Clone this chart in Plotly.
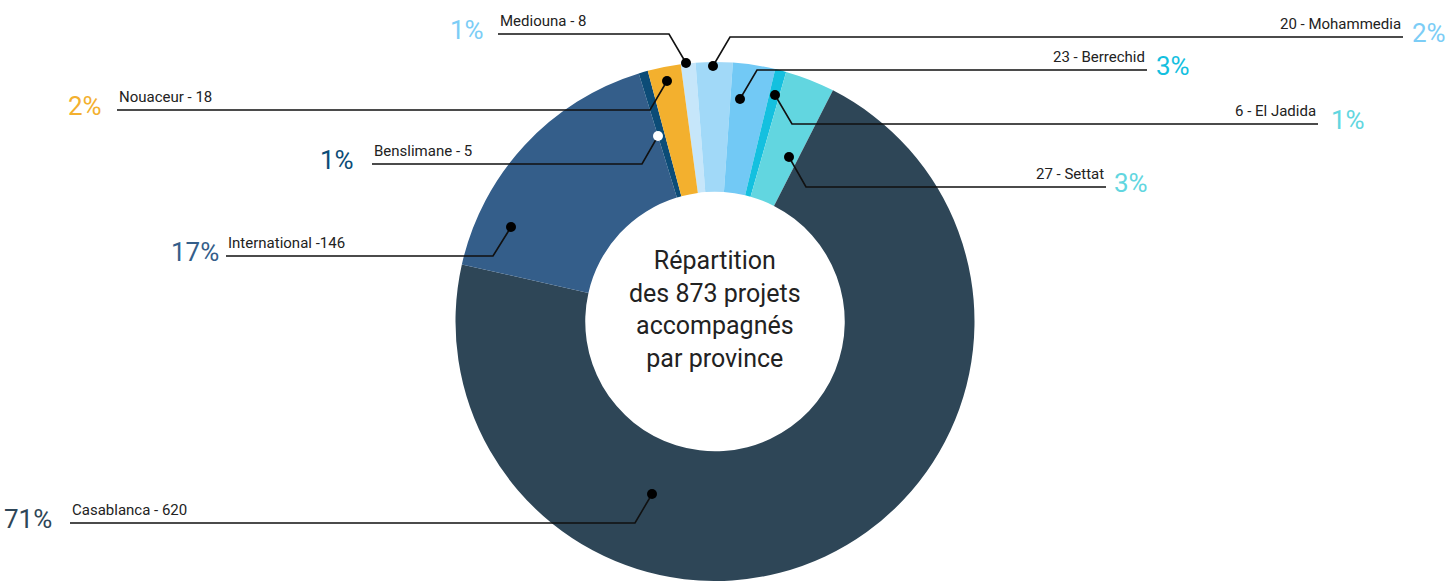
import plotly.graph_objects as go

W, H = 1449, 581

# data
provinces = ['Mediouna', 'Mohammedia', 'Berrechid', 'El Jadida', 'Settat',
             'Casablanca', 'International', 'Benslimane', 'Nouaceur']
projects = [8, 20, 23, 6, 27, 620, 146, 5, 18]
label_texts = ['Mediouna - 8', '20 - Mohammedia', '23 - Berrechid',
               '6 - El Jadida', '27 - Settat', 'Casablanca - 620',
               'International -146', 'Benslimane - 5', 'Nouaceur - 18']
pct_texts = ['1%', '2%', '3%', '1%', '3%', '71%', '17%', '1%', '2%']

# styles
slice_colors = ['#c6e6fa', '#a1d9f8', '#72c9f5', '#14c0df', '#62d6e0',
                '#2e4657', '#345e8a', '#0c4c77', '#f3b02e']
pct_colors = ['#7ccdf6', '#7ccdf6', '#14c0df', '#62d6e0', '#62d6e0',
              '#2e4657', '#345e8a', '#0c4c77', '#f3b02e']
dot_colors = ['black'] * 7 + ['white', 'black']

# leader line layout in pixels: dot, elbow, line end x, percent x
leaders = [
    (686, 63, 669, 34, 498, 486),
    (713, 66, 730, 37, 1403, 1410),
    (740, 99, 757, 70, 1147, 1154),
    (775, 95, 792, 124, 1318, 1329),
    (789, 157, 806, 187, 1106, 1112),
    (652, 494, 635, 523, 70, 54),
    (511, 227, 493, 256, 226, 221),
    (658, 136, 642, 164, 372, 356),
    (667, 81, 650, 110, 117, 104),
]

FONT = 'Roboto, sans-serif'
PCT_FONT = dict(family='Roboto, sans-serif', size=26)


def px(x, y):
    return x / W, 1 - y / H


fig = go.Figure(go.Pie(
    labels=provinces,
    values=projects,
    hole=0.5,
    sort=False,
    direction='clockwise',
    rotation=-7.6,
    marker=dict(colors=slice_colors, line=dict(width=0)),
    textinfo='none',
    hoverinfo='label+value+percent',
    domain=dict(x=[455 / W, 975 / W], y=[0, 1 - 62 / H]),
))

shapes = []
annotations = []
for i, (dx, dy, ex, ey, lx, pxx) in enumerate(leaders):
    x0, y0 = px(dx, dy)
    x1, y1 = px(ex, ey)
    x2, _ = px(lx, ey)
    shapes.append(dict(type='path', xref='paper', yref='paper',
                       path=f'M {x0} {y0} L {x1} {y1} L {x2} {y1}',
                       line=dict(color='#111', width=1.6), layer='above'))
    shapes.append(dict(type='circle', xref='paper', yref='paper',
                       xsizemode='pixel', ysizemode='pixel',
                       xanchor=x0, yanchor=y0, x0=-5, x1=5, y0=-5, y1=5,
                       fillcolor=dot_colors[i], line=dict(width=0),
                       layer='above'))
    left = lx < ex
    annotations.append(dict(
        x=x2, y=1 - (ey - 2) / H, xref='paper', yref='paper',
        text=label_texts[i], showarrow=False,
        xanchor='left' if left else 'right', yanchor='bottom',
        font=dict(family=FONT, size=15, color='#222')))
    annotations.append(dict(
        x=pxx / W, y=1 - (ey - 4) / H, xref='paper', yref='paper',
        text=pct_texts[i], showarrow=False,
        xanchor='right' if left else 'left', yanchor='middle',
        font=dict(PCT_FONT, color=pct_colors[i])))

annotations.append(dict(
    x=715 / W, y=1 - 309 / H, xref='paper', yref='paper',
    text='Répartition<br>des 873 projets<br>accompagnés<br>par province',
    showarrow=False, xanchor='center', yanchor='middle', align='center',
    font=dict(family=FONT, size=25, color='#222')))

fig.update_layout(
    width=W, height=H,
    margin=dict(l=0, r=0, t=0, b=0),
    paper_bgcolor='white',
    plot_bgcolor='white',
    showlegend=False,
    shapes=shapes,
    annotations=annotations,
)

# the page body has a default 8px margin; drop it so the figure fills the window
fig.write_html('out.html', config={'displayModeBar': False},
               post_script="document.body.style.margin='0px';")
